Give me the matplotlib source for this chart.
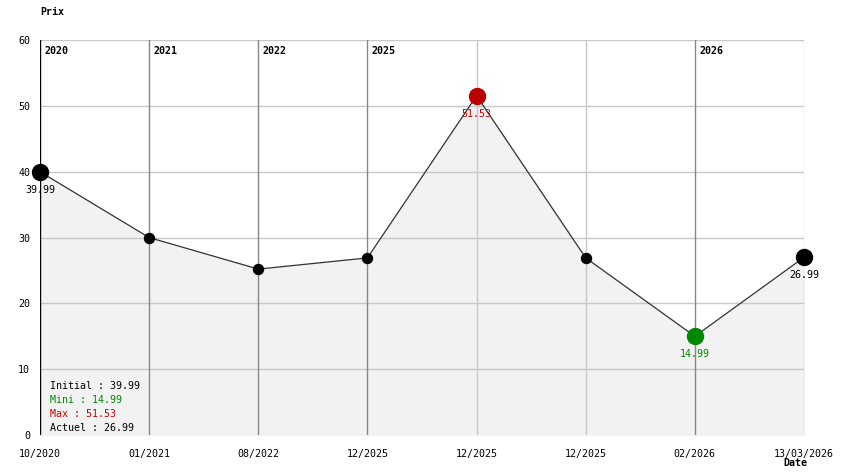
import matplotlib
matplotlib.use("Agg")
import matplotlib.pyplot as plt

dates = ["10/2020", "01/2021", "08/2022", "12/2025", "12/2025", "12/2025", "02/2026", "13/03/2026"]
prices = [39.99, 29.99, 25.2, 26.9, 51.53, 26.9, 14.99, 26.99]
year_marks = {0: "2020", 1: "2021", 2: "2022", 3: "2025", 6: "2026"}
summary = [("Initial : 39.99", "#000000"), ("Mini : 14.99", "#008800"),
           ("Max : 51.53", "#cc0000"), ("Actuel : 26.99", "#000000")]

W, H = 844, 474
fig = plt.figure(figsize=(W / 100, H / 100), dpi=100)
ax = fig.add_axes([40 / W, (H - 435) / H, 764 / W, 395 / H])
mono = "DejaVu Sans Mono"
fs = 7.2

x = list(range(len(prices)))
ax.set_xlim(0, len(prices) - 1)
ax.set_ylim(0, 60)
for s in ax.spines.values():
    s.set_visible(False)

# grid
for yv in range(10, 61, 10):
    ax.axhline(yv, color="#c8c8c8", lw=1, zorder=1)
for i in x:
    if i == 0:
        c = "#000000"
    elif i in year_marks:
        c = "#888888"
    else:
        c = "#c8c8c8"
    ax.axvline(i, color=c, lw=1, zorder=1)
    if i in year_marks:
        ax.annotate(year_marks[i], (i, 60), xytext=(3, -4), textcoords="offset points",
                    fontsize=fs, family=mono, fontweight="bold", va="top", ha="left",
                    zorder=5)

ax.fill_between(x, prices, 0, color="#f2f2f2", zorder=0)
ax.plot(x, prices, color="#333333", lw=0.9, zorder=3)

imin = prices.index(min(prices))
imax = prices.index(max(prices))
last = len(prices) - 1
for i, p in enumerate(prices):
    tcol = None
    if i == imin:
        col, ms, tcol = "#008800", 11.5, "#008800"
    elif i == imax:
        col, ms, tcol = "#bb0000", 11.5, "#cc0000"
    elif i in (0, last):
        col, ms, tcol = "#000000", 11.5, "#000000"
    else:
        col, ms = "#000000", 7.2
    ax.plot(i, p, "o", color=col, ms=ms, zorder=4, clip_on=False)
    if tcol:
        ax.annotate(f"{p:.2f}", (i, p), xytext=(0, -13), textcoords="offset points",
                    ha="center", va="center", fontsize=fs, family=mono, color=tcol,
                    zorder=5, annotation_clip=False)

ax.set_xticks(x)
ax.set_xticklabels(dates, family=mono, fontsize=fs)
ax.set_yticks(range(0, 61, 10))
ax.set_yticklabels([str(v) for v in range(0, 61, 10)], family=mono, fontsize=fs)
ax.tick_params(axis="x", length=0, pad=10)
ax.tick_params(axis="y", length=0, pad=7)

for k, (t, c) in enumerate(summary):
    fig.text(50 / W, 1 - (386 + 14 * k) / H, t, color=c, family=mono, fontsize=fs,
             va="center", ha="left")

fig.text(40 / W, 1 - 12 / H, "Prix", family=mono, fontsize=fs, fontweight="bold",
         va="center", ha="left")
fig.text(783 / W, 1 - 463 / H, "Date", family=mono, fontsize=fs, fontweight="bold",
         va="center", ha="left")

fig.savefig("out.png", dpi=100)
